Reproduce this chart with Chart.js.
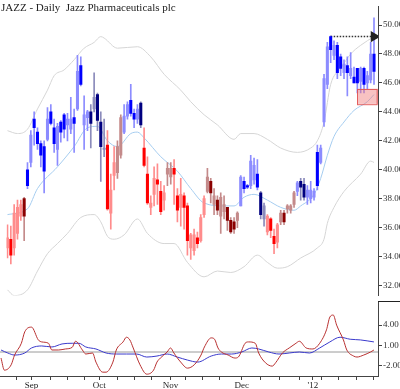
<!DOCTYPE html>
<html><head><meta charset="utf-8">
<script src="https://cdn.jsdelivr.net/npm/chart.js@4.4.1/dist/chart.umd.min.js"></script>
<style>
html,body{margin:0;padding:0;background:#fff;}
#wrap{position:relative;width:400px;height:389px;overflow:hidden;background:#fff;}
#title{position:absolute;left:1px;top:0px;font:11px "Liberation Serif",serif;color:#222;white-space:pre;z-index:2;line-height:14px;}
#c1{position:absolute;left:0;top:0;}
#c2{position:absolute;left:0;top:302px;}
#sep{position:absolute;left:378px;top:301px;width:22px;height:0;border-top:1.5px solid #222;}
</style></head><body>
<div id="wrap">
<canvas id="c1" width="400" height="302"></canvas>
<canvas id="c2" width="400" height="87"></canvas>
<div id="title">JAZZ - Daily  Jazz Pharmaceuticals plc</div>
<div id="sep"></div>
</div>
<script>
// ---- Daily bars (index 0 = mid Aug 2011 ... index 110 = 30 Jan 2012) ----
const opens  = [34.6,35.2,34.6,35.6,36.8,38.0,40.0,40.5,43.5,42.6,41.8,41.6,42.1,44.0,42.9,41.4,43.3,43.8,43.1,42.8,43.6,44.2,47.2,43.1,43.6,44.0,44.2,45.2,43.3,41.4,41.7,37.0,39.6,39.8,41.0,42.6,43.7,44.8,43.9,43.5,44.6,41.5,39.7,37.4,38.3,39.3,38.5,37.9,39.7,39.5,40.1,38.2,37.4,38.2,37.5,34.6,34.4,35.3,35.1,36.9,38.5,39.2,37.6,37.9,36.8,37.1,37.4,36.5,36.4,36.5,37.5,39.2,38.9,38.9,39.3,39.7,38.4,36.6,35.7,36.6,35.4,35.0,36.4,37.0,37.3,37.2,37.6,38.5,39.2,39.0,38.1,38.0,38.1,41.2,40.5,43.3,45.9,49.2,47.9,48.6,47.8,46.7,47.2,46.5,46.4,47.0,46.1,47.0,46.0,46.2,48.0];
const highs  = [36.2,36.1,37.6,37.9,37.9,38.1,40.5,42.7,44.0,42.9,42.0,42.0,44.3,44.5,43.5,43.2,43.4,43.9,43.9,45.0,44.2,47.9,47.8,45.1,44.1,44.5,46.7,45.3,44.0,43.5,42.7,39.7,41.6,42.0,43.8,44.5,44.7,45.9,44.2,44.5,44.7,42.9,40.9,38.2,40.2,40.4,39.2,38.9,40.5,40.5,40.7,38.7,39.4,38.4,37.7,35.6,35.9,35.7,36.9,38.2,40.1,39.4,38.7,38.2,38.4,38.2,37.4,36.7,36.7,37.1,39.6,39.5,39.0,41.0,40.8,40.7,38.5,37.7,36.9,36.7,35.9,36.3,37.2,37.2,37.6,37.6,38.5,39.2,39.4,39.4,38.9,39.2,38.7,41.7,41.7,46.6,48.8,49.25,48.9,48.8,48.0,47.6,47.8,48.1,47.1,47.0,47.1,47.1,46.8,48.8,50.5];
const lows   = [33.9,33.5,34.1,35.2,36.5,35.1,38.7,40.2,41.7,41.4,40.2,38.4,42.0,43.1,41.2,40.3,41.9,42.2,42.0,42.5,41.2,44.1,45.8,41.4,42.7,41.5,44.0,42.7,39.2,40.9,37.2,35.9,38.6,39.4,40.8,42.5,43.5,43.7,42.9,43.2,42.9,40.2,37.6,36.9,37.5,37.6,36.9,37.2,38.9,39.0,37.6,36.4,36.1,35.9,34.1,33.8,34.1,34.6,35.0,36.7,38.4,37.7,36.9,36.9,35.6,36.6,35.8,35.6,35.6,36.0,37.5,38.4,38.7,38.7,39.0,38.6,36.6,36.1,35.5,35.3,34.2,34.6,36.2,36.2,37.0,37.0,37.4,38.2,37.9,37.9,37.6,37.7,37.9,38.6,40.4,43.0,45.6,47.4,47.6,46.3,46.5,46.3,45.1,46.3,46.0,45.3,45.3,45.3,45.6,46.0,45.9];
const closes = [35.3,34.1,37.0,37.4,37.6,36.8,38.9,42.4,42.9,41.8,41.0,39.9,43.5,43.2,41.8,43.0,42.6,42.8,43.5,43.5,43.2,46.8,45.9,43.8,44.0,43.2,45.0,43.4,41.6,41.5,37.3,38.6,40.5,41.6,43.6,43.7,44.5,43.9,43.5,44.2,43.1,40.3,37.7,37.7,39.4,39.0,37.1,38.4,40.1,40.1,39.7,37.2,38.3,37.4,35.1,35.5,35.5,34.9,36.7,38.0,39.5,38.4,38.2,37.2,38.1,37.6,36.5,35.7,35.9,37.0,39.5,38.7,38.8,40.6,40.3,38.8,36.9,37.5,36.8,35.8,34.9,36.2,37.0,36.4,37.5,37.5,38.4,39.1,38.8,38.1,38.6,38.6,38.5,38.9,41.5,46.3,48.5,48.3,48.6,46.7,47.0,47.3,46.7,47.0,46.0,46.0,47.0,45.9,46.5,48.0,46.8];
// bar colour class: b blue, n navy, r red, m maroon
const barColors = "rrrrrmbbbbbbbbbbbbbbbbbbbnnnnnrrrmmbbbbbnrrrrrrrmmrrrrrrrrrrmmmmmmmmmmbbbbbbnnrrrrmmmmmbnnbbbbbbbbbbbbbbbbbbbbb".split("");

// ---- Bands ----
const upperIdx = [0,3,6,9,12,14,17,20,23,26,28,29,33,39,43,47,52,55,59,63,68,70,74,78,82,87,91,93,95,97,100,103,106,110];
const upperVal = [42.7,42.5,42.8,44.2,45.5,46.5,46.9,47.6,48.4,48.8,49.2,49.1,48.4,48.5,47.8,46.6,45.5,44.7,43.8,43.1,42.1,42.5,42.5,42.1,41.5,41.2,41.5,42.0,43.3,45.9,47.0,48.0,48.6,49.2];
const midIdx = [0,6,9,15,20,24,27,30,33,37,39,41,46,51,55,59,65,68,71,74,78,82,86,88,92,94,96,98,101,104,108,110];
const midVal = [36.9,37.3,38.7,40.2,41.6,42.9,43.0,42.0,41.6,42.5,42.6,42.2,40.9,39.9,38.7,37.7,37.5,37.5,38.1,38.3,37.9,37.4,37.2,37.5,38.3,39.4,41.0,42.3,43.3,44.1,44.7,45.2];
const lowerIdx = [0,2,6,9,12,15,18,22,26,28,30,32,35,39,42,47,50,54,59,63,67,71,75,78,81,84,88,93,95,96,98,101,106,109,110];
const lowerVal = [31.7,31.3,31.7,33.0,34.2,34.9,35.6,36.7,36.9,36.4,35.4,35.2,35.5,36.6,35.6,34.9,34.9,33.6,32.6,33.0,32.9,33.3,34.1,33.6,33.2,33.3,33.9,34.6,35.2,36.3,37.4,38.5,39.7,40.6,40.5];

// ---- Oscillator panel ----
const oscIdx = [0,1,3,4,6,7,9,11,12,14,15,17,19,21,22,24,25,27,28,30,31,33,34,36,37,38,39,41,43,45,46,47,49,50,51,53,55,57,59,60,62,63,64,65,67,69,70,72,73,75,76,78,80,81,83,85,87,88,90,92,94,96,97,98,99,101,102,104,105,107,109,110];
const oscVal = [-0.9,-2.7,-1.9,-0.45,1.3,3.0,3.7,1.8,1.5,1.3,0.3,0.3,0.45,0.7,1.6,0.3,-0.3,-0.15,-1.5,-3.0,-3.0,-1.5,0.3,1.5,2.2,1.8,0.6,-1.9,-3.3,-2.7,-1.5,-0.9,0,0.6,-0.15,-1.5,-2.4,-1.9,-0.45,0.75,2.1,1.9,0.6,0,-0.45,-0.9,-0.75,1.3,1.5,1.3,-0.15,-1.6,-2.1,-1.6,-0.15,0.6,1.3,1.6,0.6,0.45,1.3,3.3,5.2,5.5,4.0,1.8,0.3,-0.6,-0.75,-0.45,0,0.3];
const sigIdx = [0,2,4,7,9,12,15,18,21,23,25,28,31,34,37,40,43,46,49,52,55,58,62,65,68,71,74,76,79,82,85,88,91,94,97,100,103,106,110];
const sigVal = [0.3,-0.15,-0.45,-0.15,0.6,0.9,0.75,1.2,1.3,1.3,0.75,0.45,-0.15,-0.3,-0.3,-0.3,-0.75,-0.6,-0.3,-0.75,-1.2,-1.5,-0.6,-0.3,-0.3,0,0.6,0.45,0,-0.3,-0.15,0,-0.15,0.6,1.5,2.2,1.9,1.8,1.5];

// ---- Axis ticks ----
const priceTicks = [32,34,36,38,40,42,44,46,48,50];
const oscTicks = [-2,1,4];
const monthIdx = [9,29,50,71,92];
const monthLabels = ["Sep","Oct","Nov","Dec","'12"];
const weekIdx = [4.5,9,14.5,19.5,24.5,29,34.5,39.5,44.5,50,54.5,59.5,64.5,71,76.5,82,88,92,94.5,99.5,105,110];

// ---- Annotations ----
const arrowSpan = [97, 110];
const arrowPrice = [49.2];
const boxSpan = [105];
const boxPrices = [44.55, 45.6];

const xMin = -0.3, xMax = 111.2;
Chart.defaults.font.family = "'Liberation Serif', serif";
Chart.defaults.color = '#333';
Chart.defaults.animation = false;

const solid = {b:'#0000ff', n:'#000080', r:'#ff0000', m:'#8b0000'};
const light = {b:'#8c8cff', n:'#8a8abb', r:'#ff8c8c', m:'#c48a8a'};
const pts = (ix, v) => ix.map((x,k)=>({x:x, y:v[k]}));

const bandLine = (data, color) => ({type:'line', data, borderColor:color, borderWidth:1, pointRadius:0, cubicInterpolationMode:'monotone', order:2});

const boxPlugin = {
  id:'boxPlugin',
  afterDatasetsDraw(chart){
    const {ctx, scales:{x,y}, chartArea} = chart;
    const x0 = x.getPixelForValue(boxSpan[0]), x1 = chartArea.right;
    const y0 = y.getPixelForValue(boxPrices[1]), y1 = y.getPixelForValue(boxPrices[0]);
    ctx.save();
    ctx.fillStyle = 'rgba(240,120,120,0.45)';
    ctx.fillRect(x0, y0, x1-x0, y1-y0);
    ctx.strokeStyle = 'rgba(225,80,80,0.9)';
    ctx.lineWidth = 1;
    ctx.strokeRect(Math.round(x0)+0.5, Math.round(y0)+0.5, x1-x0-1, y1-y0);
    ctx.restore();
  }
};

new Chart(document.getElementById('c1'), {
  type:'bar',
  data:{datasets:[
    {data: opens.map((o,i)=>({x:i, y:[o, closes[i]]})),
     backgroundColor: opens.map((o,i)=> closes[i] < o ? solid[barColors[i]] : light[barColors[i]]),
     barThickness:2.4, minBarLength:1, grouped:false, order:0},
    {data: lows.map((l,i)=>({x:i, y:[l, highs[i]]})),
     backgroundColor: barColors.map(c=>light[c]),
     barThickness:1, grouped:false, order:1},
    bandLine(pts(upperIdx, upperVal), '#d6d6d6'),
    bandLine(pts(midIdx, midVal), '#a6cdf0'),
    bandLine(pts(lowerIdx, lowerVal), '#d6d6d6'),
    {type:'line', data:[{x:arrowSpan[0], y:arrowPrice[0]},{x:arrowSpan[1], y:arrowPrice[0]}],
     borderColor:'#333', borderWidth:1.5, borderDash:[1.5,1.5], pointRadius:[0,5],
     pointStyle:'triangle', rotation:90, pointBackgroundColor:'#222', pointBorderColor:'#222', order:0}
  ]},
  options:{
    responsive:false, devicePixelRatio:1,
    layout:{padding:0},
    plugins:{legend:{display:false}, tooltip:{enabled:false}},
    scales:{
      x:{type:'linear', min:xMin, max:xMax, offset:false, display:false, grid:{offset:false}},
      y:{position:'right', min:31.31, max:51.28,
         afterBuildTicks: s => { s.ticks = priceTicks.map(v=>({value:v})); },
         ticks:{callback:v=>v.toFixed(2), font:{size:9}, padding:1, color:'#333'},
         grid:{drawOnChartArea:false, tickLength:4, color:'#444'},
         border:{color:'#444'},
         afterFit: s => { s.width = 22; s.paddingTop = 0; s.paddingBottom = 0; }}
    }
  },
  plugins:[boxPlugin]
});

new Chart(document.getElementById('c2'), {
  type:'line',
  data:{datasets:[
    {data:pts(oscIdx, oscVal), borderColor:'#b83030', borderWidth:1, pointRadius:0, cubicInterpolationMode:'monotone'},
    {data:pts(sigIdx, sigVal), borderColor:'#3a3acc', borderWidth:1, pointRadius:0, cubicInterpolationMode:'monotone'},
    {data:[{x:xMin,y:0},{x:xMax,y:0}], borderColor:'#9a9a9a', borderWidth:1, pointRadius:0}
  ]},
  options:{
    responsive:false, devicePixelRatio:1,
    layout:{padding:0},
    plugins:{legend:{display:false}, tooltip:{enabled:false}},
    scales:{
      x:{type:'linear', min:xMin, max:xMax, offset:false,
         afterBuildTicks: s => { s.ticks = weekIdx.map(v=>({value:v})); },
         ticks:{autoSkip:false, maxRotation:0, padding:0, font:{size:9}, color:'#222',
                callback:(v)=>{ const k = monthIdx.indexOf(v); return k>=0 ? monthLabels[k] : ''; }},
         grid:{drawOnChartArea:false, tickLength:4, color:'#444'},
         border:{color:'#444'},
         afterFit: s => { s.height = 13; s.paddingLeft = 0; s.paddingRight = 0; }},
      y:{position:'right', min:-3.57, max:7.44,
         afterBuildTicks: s => { s.ticks = oscTicks.map(v=>({value:v})); },
         ticks:{callback:v=>v.toFixed(2), font:{size:9}, padding:1, color:'#333'},
         grid:{drawOnChartArea:false, tickLength:4, color:'#444'},
         border:{color:'#444'},
         afterFit: s => { s.width = 22; s.paddingTop = 0; s.paddingBottom = 0; }}
    }
  }
});
</script>
</body></html>
